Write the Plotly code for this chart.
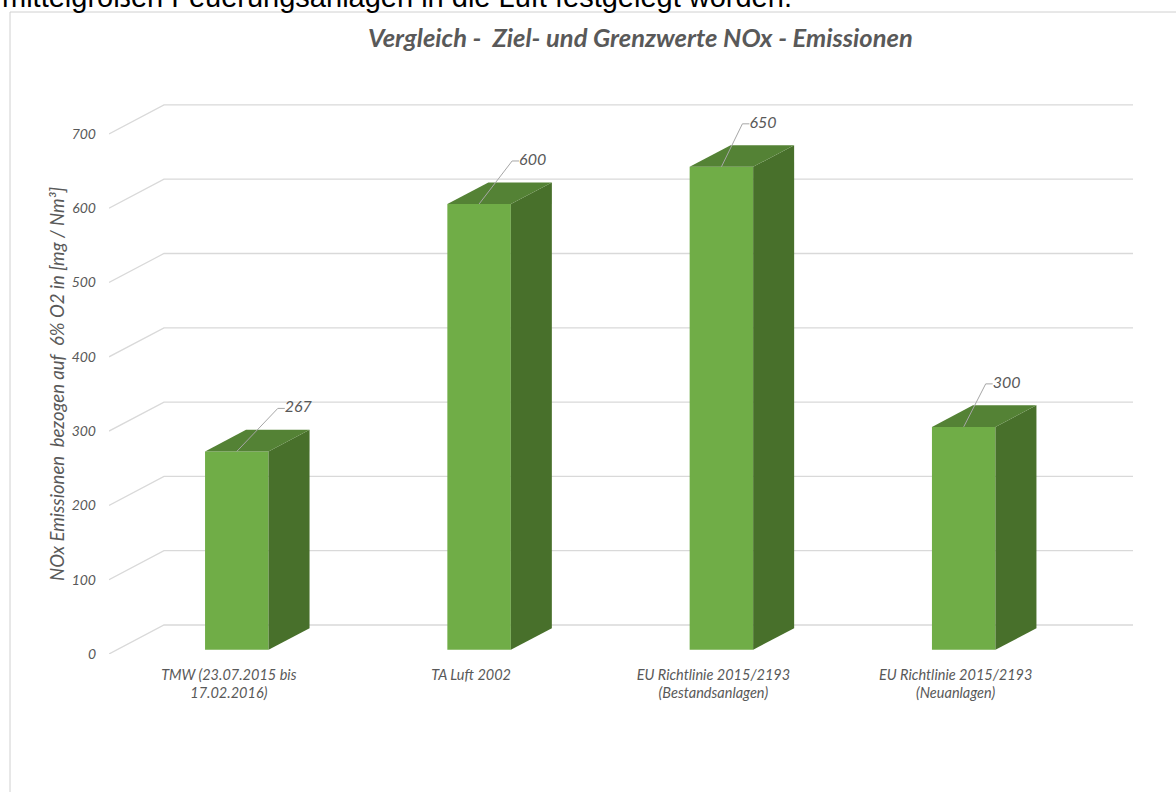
import plotly.graph_objects as go

# ---- data -------------------------------------------------------------
categories = [
    "TMW (23.07.2015 bis<br>17.02.2016)",
    "TA Luft 2002",
    "EU Richtlinie 2015/2193<br>(Bestandsanlagen)",
    "EU Richtlinie 2015/2193<br>(Neuanlagen)",
]
nox_values = [267, 600, 650, 300]
y_ticks = [0, 100, 200, 300, 400, 500, 600, 700]

# ---- geometry of the oblique (pseudo 3-D) projection --------------------
W, H = 1176, 792
CAT_PX = 242.3        # pixels per category step
UNIT_PX = 0.743       # pixels per mg/Nm³
ORIGIN_X = 228.8      # pixel x of category 0 on the floor front edge
ORIGIN_Y = 654        # pixel y of value 0 on the floor front edge
SLOPE = 0.527         # vertical rise per horizontal pixel of depth
PLOT_L, PLOT_R, PLOT_T = 109, 1140, 60
WALL_END_PX = 1133

FRONT_D, BACK_D, WALL_D = 8, 49, 55   # depth offsets (px) of bar front, bar back, back wall
BAR_W = 63.5 / CAT_PX
LEADER_DX_PX = [41, 33, 21, 22]
LEADER_UP_PX = 43

GREEN = "#70AD47"
GREEN_TOP = "#548235"
GREEN_SIDE = "#48702B"
GRID = "#D9D9D9"
TEXT = "#595959"
FONT = "Lato"


def depth(x, v, d):
    """Shift a front-plane point (x, value) back by d pixels of depth."""
    return x + d / CAT_PX, v + d * SLOPE / UNIT_PX


x_range = [(PLOT_L - ORIGIN_X) / CAT_PX, (PLOT_R - ORIGIN_X) / CAT_PX]
y_range = [0, (ORIGIN_Y - PLOT_T) / UNIT_PX]
x_end = (WALL_END_PX - ORIGIN_X) / CAT_PX

fig = go.Figure()

# ---- back wall grid lines with their floor diagonals ----------------------
shapes = []
for v in y_ticks:
    x0 = x_range[0]
    x1, v1 = depth(x0, v, WALL_D)
    shapes.append(dict(
        type="path", xref="x", yref="y", layer="below",
        path=f"M {x0},{v} L {x1},{v1} L {x_end},{v1}",
        line=dict(color=GRID, width=1.3),
    ))

# chart frame
shapes.append(dict(
    type="rect", xref="paper", yref="paper",
    x0=10 / W, x1=1.05, y0=-0.05, y1=(H - 12) / H,
    line=dict(color="#D0D0D0", width=1), layer="below",
))

# ---- bar front faces --------------------------------------------------------
front_x = [depth(i, 0, FRONT_D)[0] for i in range(len(nox_values))]
base_v = depth(0, 0, FRONT_D)[1]
fig.add_trace(go.Bar(
    x=front_x, y=nox_values, base=base_v, width=BAR_W,
    marker=dict(color=GREEN, line=dict(width=0)),
    hoverinfo="skip", showlegend=False,
))

# ---- top and side faces ------------------------------------------------------
for i, val in enumerate(nox_values):
    xl = front_x[i] - BAR_W / 2
    xr = front_x[i] + BAR_W / 2
    top = base_v + val
    d = BACK_D - FRONT_D
    blx, btv = depth(xl, top, d)
    brx, _ = depth(xr, top, d)
    _, bbv = depth(xr, base_v, d)
    fig.add_trace(go.Scatter(
        x=[xr, xr, brx, brx, xr], y=[top, base_v, bbv, btv, top],
        fill="toself", fillcolor=GREEN_SIDE, mode="lines",
        line=dict(width=0, color=GREEN_SIDE),
        hoverinfo="skip", showlegend=False,
    ))
    fig.add_trace(go.Scatter(
        x=[xl, xr, brx, blx, xl], y=[top, top, btv, btv, top],
        fill="toself", fillcolor=GREEN_TOP, mode="lines",
        line=dict(width=0, color=GREEN_TOP),
        hoverinfo="skip", showlegend=False,
    ))

# ---- data labels with leader lines -----------------------------------------------
for i, val in enumerate(nox_values):
    sx, sv = front_x[i], base_v + val
    ex = sx + LEADER_DX_PX[i] / CAT_PX
    ev = sv + LEADER_UP_PX / UNIT_PX
    hx = ex + 7 / CAT_PX
    fig.add_trace(go.Scatter(
        x=[sx, ex, hx], y=[sv, ev, ev], mode="lines",
        line=dict(color="#A6A6A6", width=1),
        hoverinfo="skip", showlegend=False,
    ))
    fig.add_trace(go.Scatter(
        x=[hx], y=[ev], mode="text", text=[str(val)],
        textposition="middle right",
        textfont=dict(family=FONT, size=16, color=TEXT, style="italic"),
        hoverinfo="skip", showlegend=False, cliponaxis=False,
    ))

fig.update_layout(
    width=W, height=H,
    margin=dict(l=0, r=0, t=0, b=0, pad=0, autoexpand=False),
    paper_bgcolor="white", plot_bgcolor="rgba(0,0,0,0)",
    shapes=shapes,
    showlegend=False,
    xaxis=dict(
        domain=[PLOT_L / W, PLOT_R / W], range=x_range, automargin=False,
        showgrid=False, zeroline=False, showline=False, ticks="",
        tickvals=list(range(len(categories))), ticktext=categories,
        tickfont=dict(family=FONT, size=14.5, color=TEXT, style="italic"),
        ticklabelstandoff=10, fixedrange=True,
    ),
    yaxis=dict(
        domain=[(H - ORIGIN_Y) / H, (H - PLOT_T) / H], range=y_range, automargin=False,
        showgrid=False, zeroline=False, showline=False, ticks="",
        tickvals=y_ticks, ticktext=[str(t) for t in y_ticks],
        tickfont=dict(family=FONT, size=14, color=TEXT, style="italic"),
        ticklabelstandoff=12, fixedrange=True,
    ),
    annotations=[
        dict(
            text="mittelgroßen Feuerungsanlagen in die Luft festgelegt worden.",
            xref="paper", yref="paper", x=0, y=1, xanchor="left", yanchor="bottom",
            yshift=-15, showarrow=False,
            font=dict(family="Liberation Sans", size=29, color="#000000"),
        ),
        dict(
            text="Vergleich -  Ziel- und Grenzwerte NOx - Emissionen",
            xref="paper", yref="paper", x=640 / W, y=(H - 37) / H,
            xanchor="center", yanchor="middle", showarrow=False,
            font=dict(family=FONT, size=25.5, color=TEXT, style="italic", weight="bold"),
        ),
        dict(
            text="NOx Emissionen  bezogen auf  6% O2 in [mg / Nm³]",
            xref="paper", yref="paper", x=57 / W, y=(H - 384) / H,
            xanchor="center", yanchor="middle", textangle=-90, showarrow=False,
            font=dict(family=FONT, size=18.5, color=TEXT, style="italic"),
        ),
    ],
)

fig.write_html("out.html")
